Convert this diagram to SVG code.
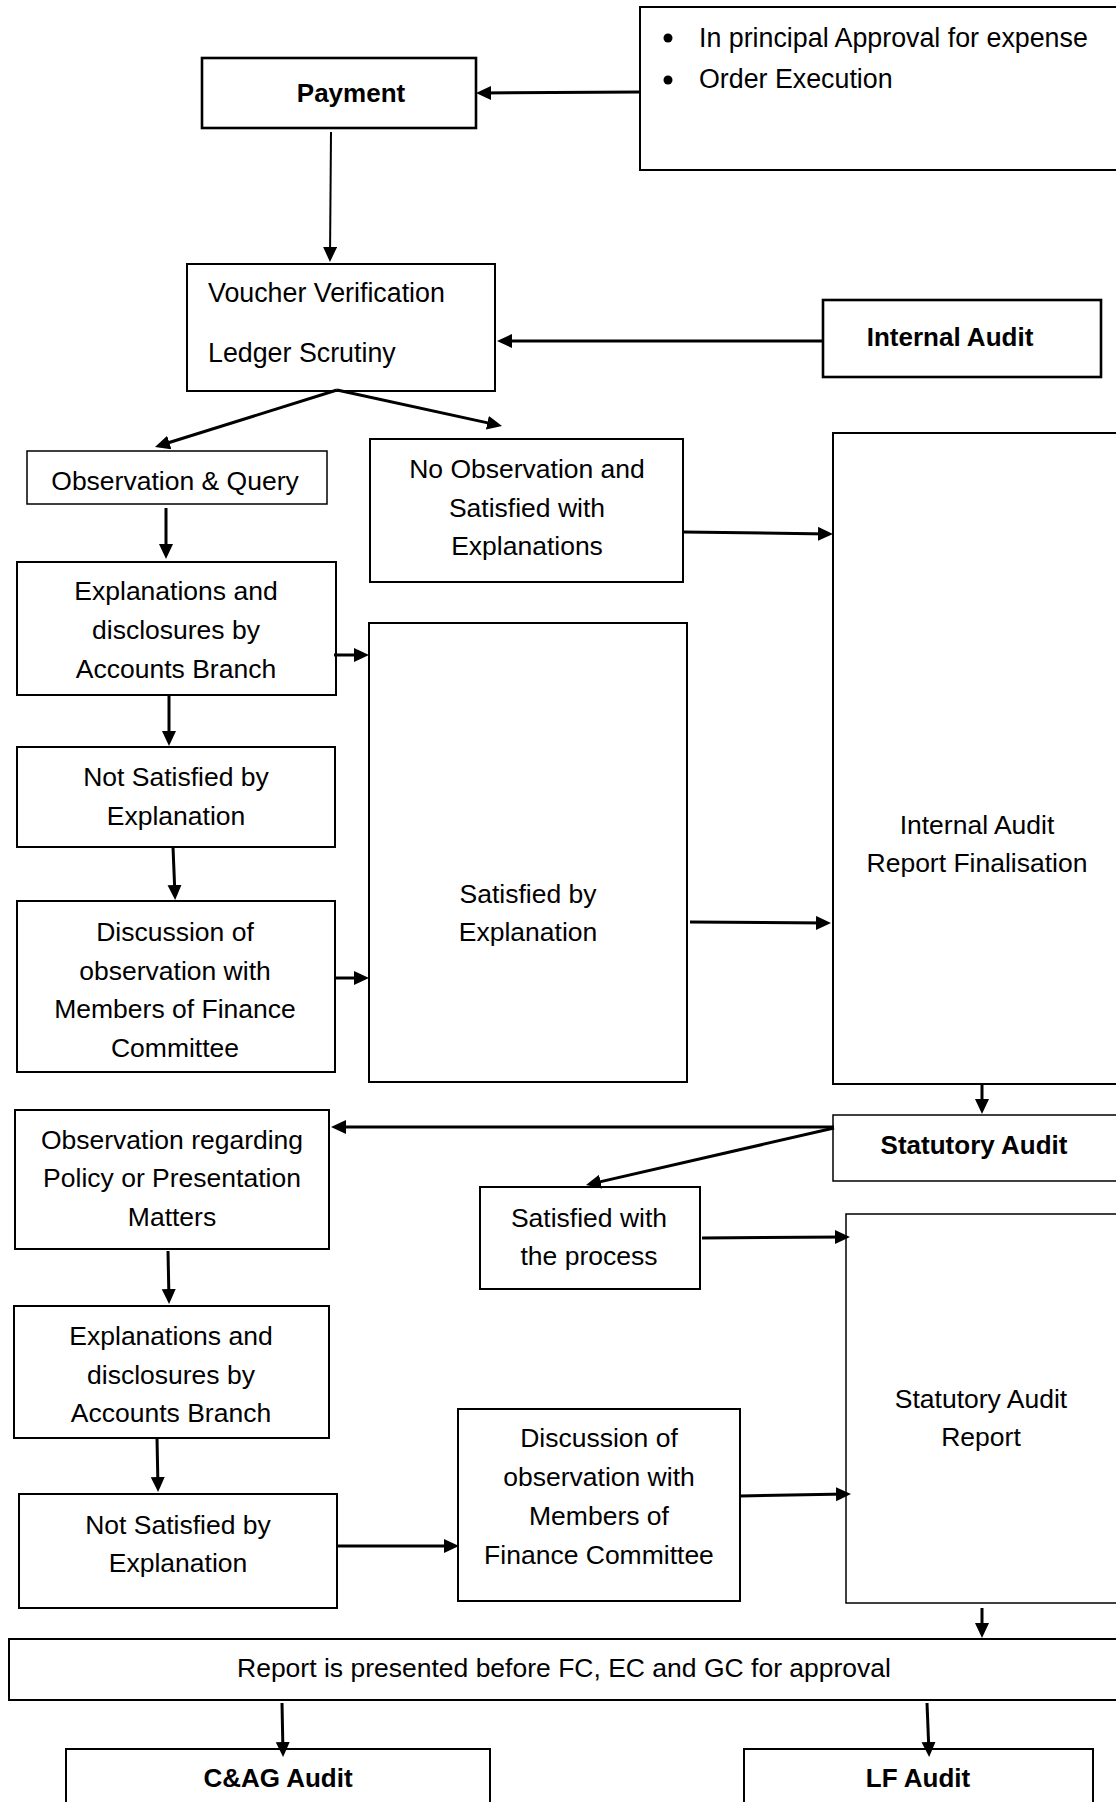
<svg xmlns="http://www.w3.org/2000/svg" width="1116" height="1802" viewBox="0 0 1116 1802">
<style>
.b{fill:#fff;stroke:#000;stroke-width:2}
.bk{fill:#fff;stroke:#000;stroke-width:2.6}
.bt{fill:#fff;stroke:#000;stroke-width:1.5}
.t{font-family:"Liberation Sans",Arial,sans-serif;font-size:26.5px;fill:#000;text-anchor:middle}
.tl{text-anchor:start}
.tx{font-size:26.8px}
.tb{font-weight:bold;font-size:26px}
.c line{stroke:#000;stroke-width:3;marker-end:url(#ah)}
.c line.thin{stroke-width:2}
</style>
<defs>
<marker id="ah" markerUnits="userSpaceOnUse" markerWidth="16" markerHeight="15" refX="11" refY="7" orient="auto">
<path d="M0,0 L15,7 L0,14 z" fill="#000"/>
</marker>
</defs>
<g id="n-approval">
<rect class="b" x="640" y="7" width="500" height="163"/>
<circle cx="668" cy="38" r="4.5"/>
<circle cx="668" cy="80" r="4.5"/>
<text class="t tl tx" x="699" y="47">In principal Approval for expense</text>
<text class="t tl tx" x="699" y="88">Order Execution</text>
</g>
<g id="n-payment">
<rect class="bk" x="202" y="58" width="274" height="70"/>
<text class="t tb" x="351" y="102">Payment</text>
</g>
<g id="n-voucher">
<rect class="b" x="187" y="264" width="308" height="127"/>
<text class="t tl tx" x="208" y="302">Voucher Verification</text>
<text class="t tl tx" x="208" y="362">Ledger Scrutiny</text>
</g>
<g id="n-internal-audit">
<rect class="bk" x="823" y="300" width="278" height="77"/>
<text class="t tb" x="950" y="346">Internal Audit</text>
</g>
<g id="n-obs-query">
<rect class="bt" x="27" y="451" width="300" height="53"/>
<text class="t" x="175" y="490">Observation &amp; Query</text>
</g>
<g id="n-no-obs">
<rect class="b" x="370" y="439" width="313" height="143"/>
<text class="t" x="527" y="478">No Observation and</text>
<text class="t" x="527" y="517">Satisfied with</text>
<text class="t" x="527" y="555">Explanations</text>
</g>
<g id="n-expl1">
<rect class="b" x="17" y="562" width="319" height="133"/>
<text class="t" x="176" y="600">Explanations and</text>
<text class="t" x="176" y="639">disclosures by</text>
<text class="t" x="176" y="678">Accounts Branch</text>
</g>
<g id="n-notsat1">
<rect class="b" x="17" y="747" width="318" height="100"/>
<text class="t" x="176" y="786">Not Satisfied by</text>
<text class="t" x="176" y="825">Explanation</text>
</g>
<g id="n-disc1">
<rect class="b" x="17" y="901" width="318" height="171"/>
<text class="t" x="175" y="941">Discussion of</text>
<text class="t" x="175" y="980">observation with</text>
<text class="t" x="175" y="1018">Members of Finance</text>
<text class="t" x="175" y="1057">Committee</text>
</g>
<g id="n-satisfied">
<rect class="b" x="369" y="623" width="318" height="459"/>
<text class="t" x="528" y="903">Satisfied by</text>
<text class="t" x="528" y="941">Explanation</text>
</g>
<g id="n-ia-report">
<rect class="b" x="833" y="433" width="297" height="651"/>
<text class="t" x="977" y="834">Internal Audit</text>
<text class="t" x="977" y="872">Report Finalisation</text>
</g>
<g id="n-statutory-audit">
<rect class="bt" x="833" y="1115" width="297" height="66"/>
<text class="t tb" x="974" y="1154">Statutory Audit</text>
</g>
<g id="n-obs-policy">
<rect class="b" x="15" y="1110" width="314" height="139"/>
<text class="t" x="172" y="1149">Observation regarding</text>
<text class="t" x="172" y="1187">Policy or Presentation</text>
<text class="t" x="172" y="1226">Matters</text>
</g>
<g id="n-sat-process">
<rect class="b" x="480" y="1187" width="220" height="102"/>
<text class="t" x="589" y="1227">Satisfied with</text>
<text class="t" x="589" y="1265">the process</text>
</g>
<g id="n-sar">
<rect class="bt" x="846" y="1214" width="284" height="389"/>
<text class="t" x="981" y="1408">Statutory Audit</text>
<text class="t" x="981" y="1446">Report</text>
</g>
<g id="n-expl2">
<rect class="b" x="14" y="1306" width="315" height="132"/>
<text class="t" x="171" y="1345">Explanations and</text>
<text class="t" x="171" y="1384">disclosures by</text>
<text class="t" x="171" y="1422">Accounts Branch</text>
</g>
<g id="n-notsat2">
<rect class="b" x="19" y="1494" width="318" height="114"/>
<text class="t" x="178" y="1534">Not Satisfied by</text>
<text class="t" x="178" y="1572">Explanation</text>
</g>
<g id="n-disc2">
<rect class="b" x="458" y="1409" width="282" height="192"/>
<text class="t" x="599" y="1447">Discussion of</text>
<text class="t" x="599" y="1486">observation with</text>
<text class="t" x="599" y="1525">Members of</text>
<text class="t" x="599" y="1564">Finance Committee</text>
</g>
<g id="n-report">
<rect class="b" x="9" y="1639" width="1121" height="61"/>
<text class="t" x="564" y="1677">Report is presented before FC, EC and GC for approval</text>
</g>
<g id="n-cag">
<rect class="b" x="66" y="1749" width="424" height="70"/>
<text class="t tb" x="278" y="1787">C&amp;AG Audit</text>
</g>
<g id="n-lf">
<rect class="b" x="744" y="1749" width="349" height="70"/>
<text class="t tb" x="918" y="1787">LF Audit</text>
</g>
<g id="connectors" class="c">
<line x1="640" y1="92" x2="480" y2="93"/>
<line class="thin" x1="331" y1="132" x2="330" y2="258"/>
<line x1="823" y1="341" x2="501" y2="341"/>
<line x1="337" y1="390" x2="158.8" y2="445.8"/>
<line x1="337" y1="390" x2="498.1" y2="425.1"/>
<line x1="166" y1="508" x2="166" y2="555"/>
<line x1="334" y1="655" x2="365" y2="655"/>
<line x1="169" y1="695" x2="169" y2="742"/>
<line x1="173" y1="847" x2="175" y2="896"/>
<line x1="335" y1="978" x2="365" y2="978"/>
<line x1="683" y1="532" x2="829" y2="534"/>
<line x1="690" y1="922" x2="827" y2="923"/>
<line x1="982" y1="1084" x2="982" y2="1110"/>
<line x1="834" y1="1127" x2="335" y2="1127"/>
<line x1="834" y1="1128" x2="589.9" y2="1184.1"/>
<line x1="702" y1="1238" x2="846" y2="1237"/>
<line x1="168" y1="1251" x2="169" y2="1300"/>
<line x1="157" y1="1438" x2="158" y2="1488"/>
<line x1="337" y1="1546" x2="455" y2="1546"/>
<line x1="740" y1="1496" x2="847" y2="1494"/>
<line x1="982" y1="1608" x2="982" y2="1634"/>
<line x1="282" y1="1703" x2="283" y2="1753"/>
<line x1="927" y1="1703" x2="929" y2="1753"/>
</g>
</svg>
